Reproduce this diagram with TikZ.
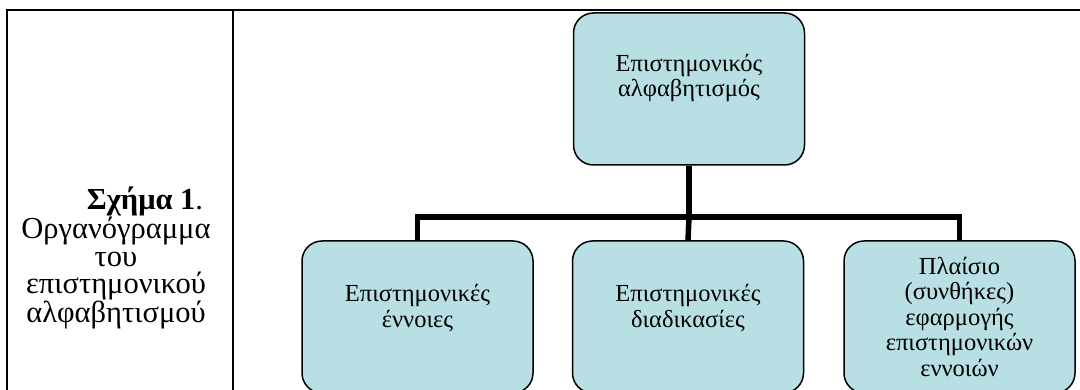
\documentclass[tikz,border=0pt]{standalone}
\usepackage{fontspec}
\setmainfont{Liberation Serif}
\begin{document}
\begin{tikzpicture}[x=1pt,y=-1pt,
  box/.style={draw=black,line width=1.5pt,fill=boxfill,rounded corners=20pt,minimum width=231pt,minimum height=152pt,inner sep=0pt},
  conn/.style={line width=5.5pt,line cap=butt,line join=miter},
  txt/.style={font=\fontsize{24.5}{25.5}\selectfont,align=center,inner sep=0pt,anchor=base},
  captxt/.style={font=\fontsize{30.5}{27.7}\selectfont,align=center,inner sep=0pt,anchor=base},
  rule/.style={line width=2pt}]
\definecolor{boxfill}{HTML}{B8DFE4}
\useasboundingbox (0,0) rectangle (1080,390);
\begin{scope}
\clip (0,0) rectangle (1080,390);
% table lines
\draw[rule] (7,10) -- (1080,10);
\draw[rule] (7,9) -- (7,400);
\draw[rule] (233,10) -- (233,400);
% boxes
\node[box] (top) at (689,89) {};
\node[box] (b1) at (417.5,317) {};
\node[box] (b2) at (688,317) {};
\node[box] (b3) at (959.5,317) {};
% connectors
\coordinate (bar) at (689,217);
\draw[conn] (top.south) -- (bar);
\draw[conn] (b1.north) |- (bar) -| (b3.north);
\draw[conn] (bar) -- (b2.north);
% texts
\node[txt] (ttop) at (689,97) {Επιστημονικός\\αλφαβητισμός};
\node[txt] (t1) at (417.5,327) {Επιστημονικές\\έννοιες};
\node[txt] (t2) at (688,327) {Επιστημονικές\\διαδικασίες};
\node[txt] (t3) at (959.5,376) {Πλαίσιο\\(συνθήκες)\\εφαρμογής\\επιστημονικών\\εννοιών};
\node[captxt] (cap) at (116,323) {\hspace*{58pt}\textbf{Σχήμα 1}.\\Οργανόγραμμα\\του\\επιστημονικού\\αλφαβητισμού};
\end{scope}
\end{tikzpicture}
\end{document}
